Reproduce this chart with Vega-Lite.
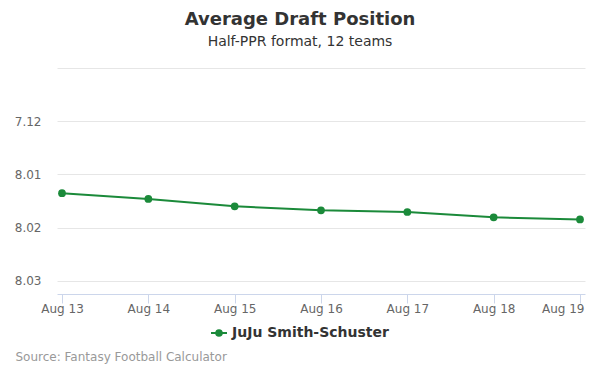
{
  "$schema": "https://vega.github.io/schema/vega-lite/v6.json",
  "width": 528,
  "height": 226,
  "autosize": "none",
  "padding": {"left": 57, "top": 68, "right": 15, "bottom": 81},
  "background": "white",
  "title": {
    "text": "Average Draft Position",
    "subtitle": "Half-PPR format, 12 teams",
    "anchor": "middle",
    "dx": -21,
    "offset": 19,
    "font": "DejaVu Sans",
    "fontSize": 18,
    "fontWeight": "bold",
    "color": "#333333",
    "subtitleFont": "DejaVu Sans",
    "subtitleFontSize": 14,
    "subtitleColor": "#333333",
    "subtitlePadding": 6
  },
  "data": {
    "values": [
      {"date": "Aug 13", "pick": 85.354, "player": "JuJu Smith-Schuster"},
      {"date": "Aug 14", "pick": 85.462, "player": "JuJu Smith-Schuster"},
      {"date": "Aug 15", "pick": 85.600, "player": "JuJu Smith-Schuster"},
      {"date": "Aug 16", "pick": 85.676, "player": "JuJu Smith-Schuster"},
      {"date": "Aug 17", "pick": 85.708, "player": "JuJu Smith-Schuster"},
      {"date": "Aug 18", "pick": 85.809, "player": "JuJu Smith-Schuster"},
      {"date": "Aug 19", "pick": 85.847, "player": "JuJu Smith-Schuster"}
    ]
  },
  "mark": {"type": "line", "strokeWidth": 2, "point": {"filled": true, "size": 60, "opacity": 1}},
  "encoding": {
    "x": {
      "field": "date",
      "type": "ordinal",
      "sort": null,
      "scale": {"type": "point", "padding": 0.058},
      "axis": {
        "title": "Source: Fantasy Football Calculator",
        "titleFont": "DejaVu Sans",
        "titleFontSize": 12,
        "titleFontWeight": "normal",
        "titleColor": "#999999",
        "titleAnchor": "start",
        "titleAlign": "left",
        "titleBaseline": "middle",
        "titleX": -42,
        "titleY": 62,
        "labelAngle": 0,
        "labelFont": "DejaVu Sans",
        "labelFontSize": 12,
        "labelColor": "#666666",
        "labelPadding": 0,
        "labelAlign": {"condition": {"test": "datum.label == 'Aug 19'", "value": "right"}, "value": "center"},
        "labelOffset": {"condition": {"test": "datum.label == 'Aug 19'", "value": 4}, "value": 0},
        "domainColor": "#ccd6eb",
        "tickColor": "#ccd6eb",
        "tickSize": 9,
        "grid": false
      }
    },
    "y": {
      "field": "pick",
      "type": "quantitative",
      "scale": {"domain": [83, 87.25], "reverse": true, "nice": false, "zero": false},
      "axis": {
        "title": null,
        "values": [83, 84, 85, 86, 87],
        "labelExpr": "datum.value == 83 ? '' : (floor((datum.value - 1) / 12) + 1) + '.' + ((datum.value - 1) % 12 + 1 < 10 ? '0' : '') + ((datum.value - 1) % 12 + 1)",
        "labelFont": "DejaVu Sans",
        "labelFontSize": 12,
        "labelColor": "#666666",
        "labelPadding": 16,
        "domain": false,
        "ticks": false,
        "grid": true,
        "gridColor": "#e6e6e6"
      }
    },
    "color": {
      "field": "player",
      "type": "nominal",
      "scale": {"range": ["#1b8a3a"]},
      "legend": {
        "title": null,
        "orient": "none",
        "legendX": 153,
        "legendY": 256,
        "symbolType": "M-1,0L1,0M-0.35,0A0.35,0.35 0 1,0 0.35,0A0.35,0.35 0 1,0 -0.35,0Z",
        "symbolSize": 256,
        "symbolStrokeWidth": 2,
        "symbolFillColor": "#1b8a3a",
        "symbolStrokeColor": "#1b8a3a",
        "labelFont": "DejaVu Sans",
        "labelFontSize": 14,
        "labelFontWeight": "bold",
        "labelColor": "#333333"
      }
    }
  },
  "config": {
    "view": {"stroke": null}
  }
}
